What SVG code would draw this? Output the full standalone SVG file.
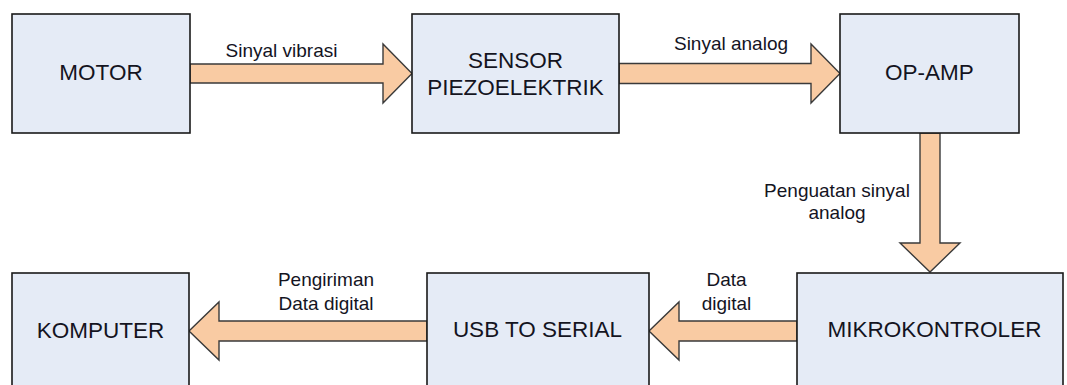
<svg xmlns="http://www.w3.org/2000/svg" width="1067" height="385" viewBox="0 0 1067 385">
<style>
.box{fill:#E5EBF6;stroke:#1a1a1a;stroke-width:1.6}
.arr{fill:#F9CBA3;stroke:#3a3a3a;stroke-width:1.4;stroke-linejoin:miter}
.t{font-family:"Liberation Sans",Arial,sans-serif;font-size:22.5px;fill:#14141f;text-anchor:middle}
.l{font-family:"Liberation Sans",Arial,sans-serif;font-size:19px;fill:#14141f;text-anchor:middle}
</style>
<rect width="1067" height="385" fill="#ffffff"/>
<g id="connectors">
  <polygon class="arr" points="190,64 383,64 383,44 412,73.5 383,103 383,83 190,83"/>
  <polygon class="arr" points="619,63.5 811,63.5 811,44 840,73.5 811,103 811,83.5 619,83.5"/>
  <polygon class="arr" points="920,133 920,243 900,243 930,272 960,243 940,243 940,133"/>
  <polygon class="arr" points="797,321 679,321 679,302 649,331 679,360 679,341 797,341"/>
  <polygon class="arr" points="427,321 219,321 219,302 189,331 219,360 219,341 427,341"/>
  <text class="l" x="281.5" y="57">Sinyal vibrasi</text>
  <text class="l" x="731" y="50">Sinyal analog</text>
  <text class="l" x="837" y="197">Penguatan sinyal</text>
  <text class="l" x="837" y="219">analog</text>
  <text class="l" x="326" y="286">Pengiriman</text>
  <text class="l" x="326" y="310">Data digital</text>
  <text class="l" x="726.5" y="286">Data</text>
  <text class="l" x="726.5" y="310">digital</text>
</g>
<g id="motor">
  <rect class="box" x="12" y="14" width="178" height="119"/>
  <text class="t" x="101" y="80">MOTOR</text>
</g>
<g id="sensor">
  <rect class="box" x="412" y="14" width="207" height="119"/>
  <text class="t" x="515.5" y="68">SENSOR</text>
  <text class="t" x="515.5" y="95">PIEZOELEKTRIK</text>
</g>
<g id="opamp">
  <rect class="box" x="840" y="14" width="179" height="119"/>
  <text class="t" x="929.5" y="80">OP-AMP</text>
</g>
<g id="mikrokontroler">
  <rect class="box" x="797" y="273" width="266" height="130"/>
  <text class="t" x="934.5" y="337">MIKROKONTROLER</text>
</g>
<g id="usb">
  <rect class="box" x="427" y="273" width="222" height="130"/>
  <text class="t" x="537.5" y="337">USB TO SERIAL</text>
</g>
<g id="komputer">
  <rect class="box" x="12" y="273" width="177" height="130"/>
  <text class="t" x="100.5" y="338">KOMPUTER</text>
</g>
</svg>
